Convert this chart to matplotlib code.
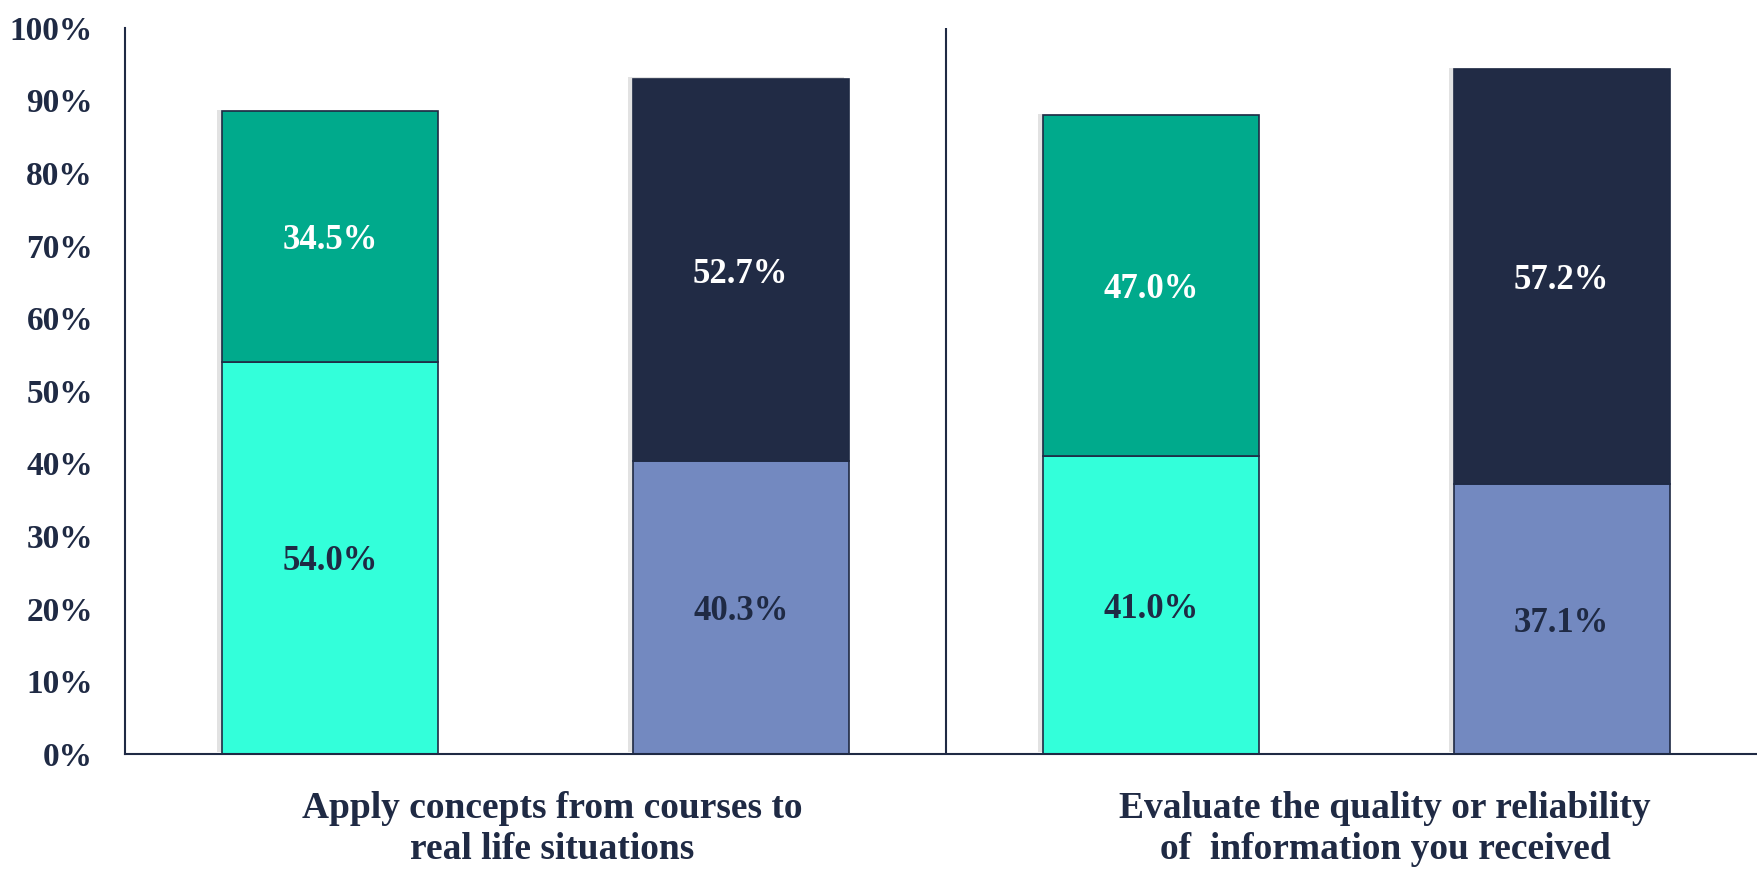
import numpy as np
import matplotlib
matplotlib.use("Agg")
import matplotlib.pyplot as plt
import matplotlib.patheffects as pe

# Données
categories = ["Apply concepts from courses to\nreal life situations",
              "Evaluate the quality or reliability\nof  information you received"]
bottom_vals = [54.0, 40.3, 41.0, 37.1]
top_vals = [34.5, 52.7, 47.0, 57.2]
bottom_colors = ["#33FFDA", "#7389C0", "#33FFDA", "#7389C0"]
top_colors = ["#00AA8C", "#212B45", "#00AA8C", "#212B45"]
bottom_text_colors = ["#1F2A44", "#1F2A44", "#1F2A44", "#1F2A44"]
top_text_colors = ["white", "white", "white", "white"]
yticks = [0, 10, 20, 30, 40, 50, 60, 70, 80, 90, 100]

navy = "#1F2A44"
plt.rcParams["font.family"] = ["Liberation Serif", "DejaVu Serif"]

fig = plt.figure(figsize=(17.58, 8.74), dpi=100)
ax = fig.add_axes([0.0711, 0.1376, 0.934, 0.8306])

x = np.arange(len(bottom_vals)) + 0.5
width = 0.526
shadow = [pe.SimplePatchShadow(offset=(-3.5, 1), shadow_rgbFace="#E2E2E2", alpha=1.0), pe.Normal()]

b1 = ax.bar(x, bottom_vals, width, color=bottom_colors, edgecolor=navy, linewidth=1.2, zorder=2)
b2 = ax.bar(x, top_vals, width, bottom=bottom_vals, color=top_colors, edgecolor=navy, linewidth=1.2, zorder=2)
for p in list(b1) + list(b2):
    p.set_path_effects(shadow)

for i in range(len(x)):
    ax.annotate(f"{bottom_vals[i]:.1f}%", (x[i], bottom_vals[i] / 2), xytext=(0, -3),
                textcoords="offset points", ha="center", va="center",
                fontsize=25, fontweight="bold", color=bottom_text_colors[i], zorder=3)
    ax.annotate(f"{top_vals[i]:.1f}%", (x[i], bottom_vals[i] + top_vals[i] / 2), xytext=(0, -3),
                textcoords="offset points", ha="center", va="center",
                fontsize=25, fontweight="bold", color=top_text_colors[i], zorder=3)

# séparateur entre les groupes
ax.axvline(2, 0, 1, color=navy, linewidth=1.5, zorder=1)

ax.set_xlim(0, 4)
ax.set_ylim(0, 100)
ax.set_yticks(yticks)
ax.set_yticklabels([f"{v}%" for v in yticks])
ax.set_xticks([1.04, 3.07])
ax.set_xticklabels(categories, linespacing=1.2)
ax.tick_params(axis="y", length=0, pad=23, labelsize=24, labelcolor=navy)
ax.tick_params(axis="x", length=0, pad=27, labelsize=27, labelcolor=navy)
for lab in ax.get_xticklabels() + ax.get_yticklabels():
    lab.set_fontweight("bold")

for s in ["top", "right"]:
    ax.spines[s].set_visible(False)
for s in ["left", "bottom"]:
    ax.spines[s].set_color(navy)
    ax.spines[s].set_linewidth(1.5)

fig.savefig("out.png", dpi=100)
